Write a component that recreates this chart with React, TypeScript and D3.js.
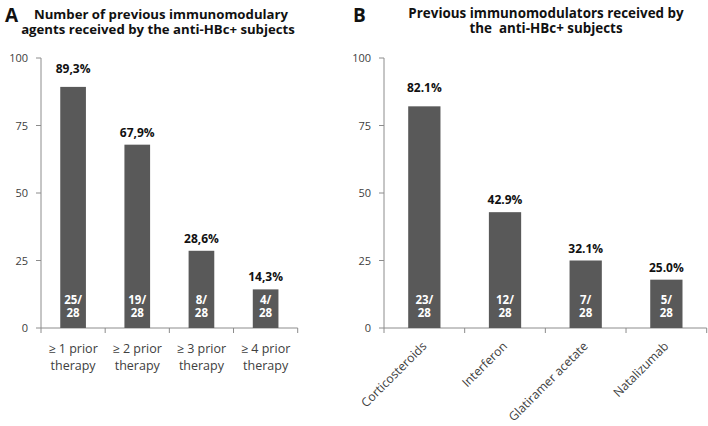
import React from "react";
import * as d3 from "d3";

const catsA = ["≥ 1 prior|therapy", "≥ 2 prior|therapy", "≥ 3 prior|therapy", "≥ 4 prior|therapy"];
const valsA = [89.3, 67.9, 28.6, 14.3];
const pctA = ["89,3%", "67,9%", "28,6%", "14,3%"];
const nA = ["25/", "19/", "8/", "4/"];

const catsB = ["Corticosteroids", "Interferon", "Glatiramer acetate", "Natalizumab"];
const valsB = [82.1, 42.9, 25.0, 17.9];
const pctB = ["82.1%", "42.9%", "32.1%", "25.0%"];
const nB = ["23/", "12/", "7/", "5/"];

const totalLabel = "28";
const yTicks = [0, 25, 50, 75, 100];

const titleA = ["Number of previous immunomodulary", "agents received by the anti-HBc+ subjects"];
const titleB = ["Previous immunomodulators received by", "the  anti-HBc+ subjects"];

const FONT = "'Open Sans', Lato, sans-serif";
const BAR = "#595959";
const AXIS = "#8c8c8c";
const TXT = "#404040";

type PanelProps = {
  x0: number; x1: number;
  cats: string[]; vals: number[]; pct: string[]; counts: string[];
  rotate: boolean;
};

function Panel({ x0, x1, cats, vals, pct, counts, rotate }: PanelProps) {
  const y = d3.scaleLinear().domain([0, 100]).range([328, 58]);
  const x = d3.scaleBand<string>().domain(cats).range([x0, x1]).paddingInner(0.6).paddingOuter(0.3);
  const step = x.step();
  const y0 = y(0);
  return (
    <g>
      <line x1={x0} x2={x0} y1={y(100)} y2={y0} stroke={AXIS} strokeWidth={1} />
      {yTicks.map((t) => (
        <g key={t}>
          <line x1={x0 - 5} x2={x0} y1={y(t)} y2={y(t)} stroke={AXIS} />
          <text x={x0 - 13} y={y(t) + 4} textAnchor="end" fontSize={11} fill={TXT} fontFamily={FONT}>{t}</text>
        </g>
      ))}
      <line x1={x0} x2={x1} y1={y0} y2={y0} stroke={AXIS} />
      {d3.range(cats.length + 1).map((i) => (
        <line key={i} x1={x0 + i * step} x2={x0 + i * step} y1={y0} y2={y0 + 5} stroke={AXIS} />
      ))}
      {cats.map((c, i) => {
        const bx = x(c)!;
        const bw = x.bandwidth();
        const cx = bx + bw / 2;
        const top = y(vals[i]);
        const off = vals[i] > 75 ? 14 : 8;
        return (
          <g key={c}>
            <rect x={bx} y={top} width={bw} height={y0 - top} fill={BAR} />
            <text x={cx} y={top - off} textAnchor="middle" fontWeight="bold" fontSize={12} fill="#111" fontFamily={FONT}>{pct[i]}</text>
            <text textAnchor="middle" fontWeight="bold" fontSize={11.5} fill="#fff" fontFamily={FONT}>
              <tspan x={cx} y={y0 - 24}>{counts[i]}</tspan>
              <tspan x={cx} y={y0 - 11}>{totalLabel}</tspan>
            </text>
            {rotate ? (
              <text transform={`translate(${cx + 3},${y0 + 19}) rotate(-45)`} textAnchor="end" fontSize={12.2} fill={TXT} fontFamily={FONT}>{c}</text>
            ) : (
              <text textAnchor="middle" fontSize={12.5} fill={TXT} fontFamily={FONT}>
                {c.split("|").map((ln, j) => (
                  <tspan key={j} x={cx} y={y0 + 25 + j * 17}>{ln}</tspan>
                ))}
              </text>
            )}
          </g>
        );
      })}
    </g>
  );
}

export default function App() {
  return (
    <svg width={708} height={426} style={{ display: "block", position: "absolute", left: 0, top: 0 }}>
      <rect width={708} height={426} fill="#fff" />
      <text x={5} y={22} fontSize={19} fontWeight="bold" fill="#111" fontFamily={FONT}>A</text>
      <text textAnchor="middle" fontSize={13.2} fontWeight="bold" fill="#111" fontFamily={FONT}>
        <tspan x={161} y={18.5}>{titleA[0]}</tspan>
        <tspan x={158} y={33.5}>{titleA[1]}</tspan>
      </text>
      <text x={353} y={22} fontSize={19} fontWeight="bold" fill="#111" fontFamily={FONT}>B</text>
      <text textAnchor="middle" fontSize={13.4} fontWeight="bold" fill="#111" fontFamily={FONT} style={{ whiteSpace: "pre" }}>
        <tspan x={546} y={17.5}>{titleB[0]}</tspan>
        <tspan x={546} y={32.5}>{titleB[1]}</tspan>
      </text>
      <Panel x0={41} x1={297.7} cats={catsA} vals={valsA} pct={pctA} counts={nA} rotate={false} />
      <Panel x0={384} x1={706.7} cats={catsB} vals={valsB} pct={pctB} counts={nB} rotate={true} />
    </svg>
  );
}
